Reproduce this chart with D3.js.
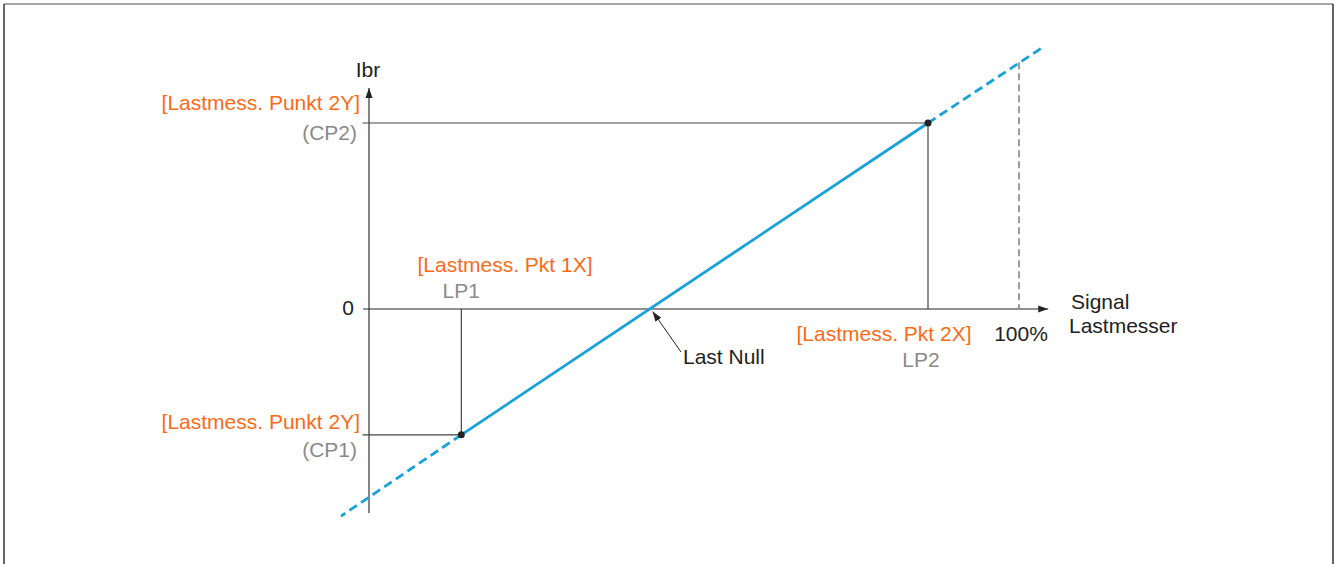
<!DOCTYPE html>
<html><head><meta charset="utf-8">
<script src="https://cdn.jsdelivr.net/npm/d3@7"></script>
<style>
html,body{margin:0;padding:0;background:#fff;}
svg{display:block;}
text{font-family:"Liberation Sans",Arial,Helvetica,sans-serif;}
</style></head>
<body>
<svg id="chart" width="1336" height="564"></svg>
<script>
// ---- data (signal in %, Ibr in arbitrary units) ----
const xAxisExtent = [-0.9, 104.5];
const yAxisExtent = [-65.8, 71.3];
const lpValues = [14.2, 86];          // LP1, LP2
const cpValues = [-40.6, 60];         // CP1, CP2
const lineStart = [-4.3, -66.8];
const lineEnd = [103.5, 84.2];
const fullScaleX = 100;
const lastNullX = 43.4;
const xLabelsOrange = ["[Lastmess. Pkt 1X]", "[Lastmess. Pkt 2X]"];
const xLabelsGray = ["LP1", "LP2"];
const yLabelsOrange = ["[Lastmess. Punkt 2Y]", "[Lastmess. Punkt 2Y]"];
const yLabelsGray = ["(CP1)", "(CP2)"];

const svg = d3.select("#chart");
const x = d3.scaleLinear().domain([0, 100]).range([369, 1019]);
const y = d3.scaleLinear().domain([0, 60]).range([309, 123]);

const ORANGE = "#fb6a17", BLUE = "#17a2dc", GRAY = "#8a8a8a", BLACK = "#222";

// frame
svg.append("line").attr("x1",4).attr("x2",1333).attr("y1",4).attr("y2",4).attr("stroke","#888").attr("stroke-width",1.5);
svg.append("line").attr("x1",4).attr("x2",4).attr("y1",4).attr("y2",564).attr("stroke","#333").attr("stroke-width",1.5);
svg.append("line").attr("x1",1333).attr("x2",1333).attr("y1",4).attr("y2",564).attr("stroke","#333").attr("stroke-width",1.5);

const defs = svg.append("defs");
defs.append("marker").attr("id","arr").attr("viewBox","0 0 10 10").attr("refX",10).attr("refY",5)
  .attr("markerWidth",10).attr("markerHeight",10).attr("markerUnits","userSpaceOnUse").attr("orient","auto")
  .append("path").attr("d","M0,1.5 L10,5 L0,8.5 Z").attr("fill",BLACK);

// axes
svg.append("line").attr("x1", x(xAxisExtent[0])).attr("x2", x(xAxisExtent[1]))
  .attr("y1", y(0)).attr("y2", y(0)).attr("stroke", BLACK).attr("stroke-width",1.1).attr("marker-end","url(#arr)");
svg.append("line").attr("x1", x(0)).attr("x2", x(0))
  .attr("y1", y(yAxisExtent[0])).attr("y2", y(yAxisExtent[1])).attr("stroke", BLACK).attr("stroke-width",1.1).attr("marker-end","url(#arr)");

// guide lines
lpValues.forEach((lp,i)=>{
  svg.append("line").attr("x1", x(lp)).attr("x2", x(lp)).attr("y1", y(0)).attr("y2", y(cpValues[i]))
    .attr("stroke", "#333").attr("stroke-width",1.1);
  svg.append("line").attr("x1", x(-1)).attr("x2", x(lp)).attr("y1", y(cpValues[i])).attr("y2", y(cpValues[i]))
    .attr("stroke", "#444").attr("stroke-width",1.1);
});

// line function
const slope = (cpValues[1]-cpValues[0])/(lpValues[1]-lpValues[0]);
const lineY = v => cpValues[0] + (v - lpValues[0]) * slope;

// 100% dashed gray
svg.append("line").attr("x1", x(fullScaleX)).attr("x2", x(fullScaleX))
  .attr("y1", y(lineY(fullScaleX))).attr("y2", y(0))
  .attr("stroke", "#8c8c8c").attr("stroke-width",1.7).attr("stroke-dasharray","7,4");

// blue line
const gen = d3.line().x(d=>x(d[0])).y(d=>y(d[1]));
const p1 = [lpValues[0], cpValues[0]], p2 = [lpValues[1], cpValues[1]];
svg.append("path").attr("d", gen([p1,p2])).attr("stroke", BLUE).attr("stroke-width",2.8).attr("fill","none");
svg.append("path").attr("d", gen([p1,lineStart])).attr("stroke", BLUE).attr("stroke-width",2.8).attr("fill","none").attr("stroke-dasharray","9,5");
svg.append("path").attr("d", gen([p2,lineEnd])).attr("stroke", BLUE).attr("stroke-width",2.8).attr("fill","none").attr("stroke-dasharray","9,5");

// points
svg.selectAll("circle.pt").data([p1,p2]).enter().append("circle")
  .attr("cx", d=>x(d[0])).attr("cy", d=>y(d[1])).attr("r",3.5).attr("fill",BLACK);

// Last Null arrow
svg.append("line").attr("x1", 681).attr("x2", x(lastNullX)+1.5).attr("y1", 352).attr("y2", y(0)+2.5)
  .attr("stroke", BLACK).attr("stroke-width",1).attr("marker-end","url(#arr)");

const FS = 21;
function txt(t, px, py, anchor, color){
  return svg.append("text").attr("x",px).attr("y",py).attr("text-anchor",anchor)
    .attr("fill",color).attr("font-size",FS+"px").text(t);
}
txt("Last Null", 683, 364, "start", BLACK);
txt("Ibr", x(0)-1, 77, "middle", BLACK);
txt("0", 348, 315, "middle", BLACK);
txt("100%", x(fullScaleX)+2, 341, "middle", BLACK);
txt("Signal", 1071, 309, "start", BLACK);
txt("Lastmesser", 1069, 333, "start", BLACK);

// y labels
txt(yLabelsOrange[1], 360, 110, "end", ORANGE);
txt(yLabelsGray[1], 357, 140, "end", GRAY);
txt(yLabelsOrange[0], 360, 429, "end", ORANGE);
txt(yLabelsGray[0], 357, 457, "end", GRAY);

// x labels
txt(xLabelsOrange[0], 505, 272, "middle", ORANGE);
txt(xLabelsGray[0], x(lpValues[0]), 298, "middle", GRAY);
txt(xLabelsOrange[1], 884, 341, "middle", ORANGE);
txt(xLabelsGray[1], x(lpValues[1])-7, 367, "middle", GRAY);
</script>
</body></html>
